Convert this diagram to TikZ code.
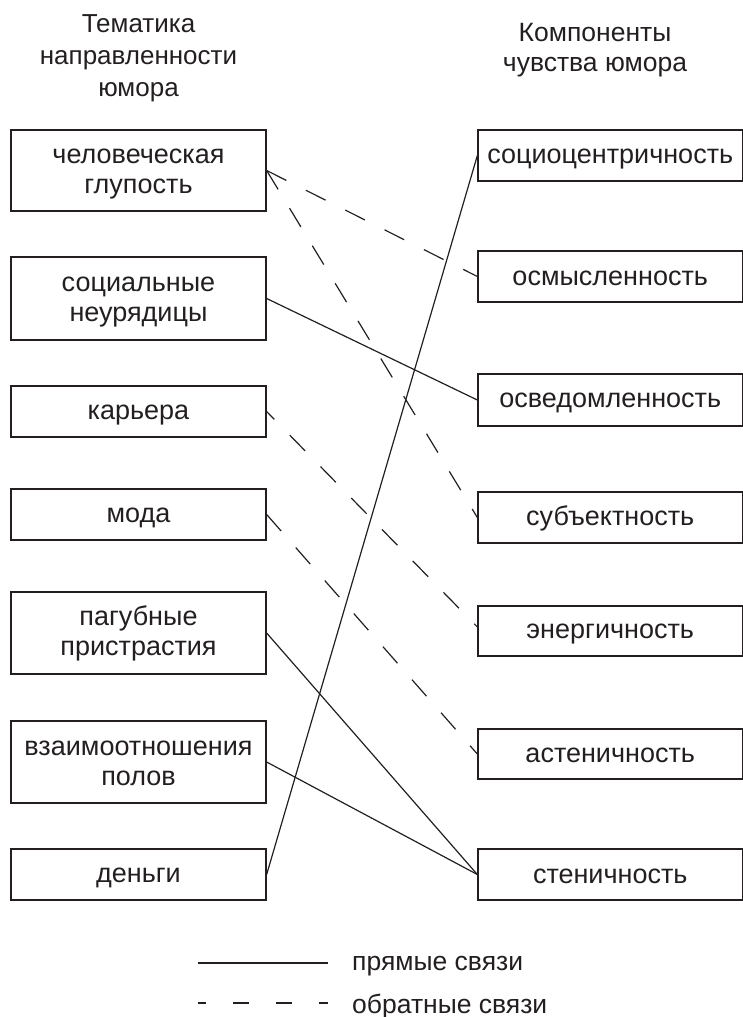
\documentclass[tikz,border=0pt]{standalone}
\usepackage{fontspec}
\setmainfont{Liberation Sans}
\definecolor{ink}{HTML}{231F20}
\newcommand\tstr{\rule[-4pt]{0pt}{25pt}}
\begin{document}
\begin{tikzpicture}[x=1pt,y=-1pt,
  box/.style={draw=ink, line width=1.3pt, rectangle, inner sep=0pt, align=center,
    font=\fontsize{27}{30}\selectfont, text=ink},
  lbox/.style={box, minimum width=255pt},
  rbox/.style={box, minimum width=264.5pt},
  ttl/.style={align=center, inner sep=0pt, text=ink},
  direct/.style={draw=ink, line width=1.2pt},
  inverse/.style={draw=ink, line width=1.2pt, dash pattern=on 22pt off 22pt},
  legtext/.style={anchor=base west, inner sep=0pt, text=ink, font=\fontsize{26.5}{30}\selectfont},
]
\useasboundingbox (0,0) rectangle (743,1017);

% titles
\node[ttl, font=\fontsize{26}{32}\selectfont] (tl) at (138.5,56.5) {\tstr Тематика\\направленности\\юмора\tstr};
\node[ttl, font=\fontsize{26.5}{30}\selectfont] (tr) at (595,48.5) {\tstr Компоненты\\чувства юмора\tstr};

% left boxes
\node[lbox, minimum height=81pt] (l1) at (138.5,170.5) {\tstr человеческая\\глупость\tstr};
\node[lbox, minimum height=83pt] (l2) at (138.5,298.5) {\tstr социальные\\неурядицы\tstr};
\node[lbox, minimum height=51pt] (l3) at (138.5,411.5) {\tstr карьера};
\node[lbox, minimum height=51pt] (l4) at (138.5,514.5) {\tstr мода};
\node[lbox, minimum height=82pt] (l5) at (138.5,633) {\tstr пагубные\\пристрастия\tstr};
\node[lbox, minimum height=82pt] (l6) at (138.5,762) {\tstr взаимоотношения\\полов\tstr};
\node[lbox, minimum height=51pt] (l7) at (138.5,874.5) {\tstr деньги};

% right boxes
\node[rbox, minimum height=51pt] (r1) at (610.25,155.5) {\tstr социоцентричность};
\node[rbox, minimum height=51pt] (r2) at (610.25,276.5) {\tstr осмысленность};
\node[rbox, minimum height=52pt] (r3) at (610.25,400) {\tstr осведомленность};
\node[rbox, minimum height=51pt] (r4) at (610.25,517.5) {\tstr субъектность};
\node[rbox, minimum height=50pt] (r5) at (610.25,631) {\tstr энергичность};
\node[rbox, minimum height=50pt] (r6) at (610.25,754) {\tstr астеничность};
\node[rbox, minimum height=51pt] (r7) at (610.25,874.5) {\tstr стеничность};

% direct links
\draw[direct] (l2.east) -- (r3.west);
\draw[direct] (l7.east) -- (r1.west);
\draw[direct] (l5.east) -- (r7.west);
\draw[direct] (l6.east) -- (r7.west);

% inverse links
\draw[inverse] (l1.east) -- (r2.west);
\draw[inverse] (l1.east) -- (r4.west);
\draw[inverse, dash phase=11pt] (l3.east) -- ([yshift=4pt]r5.west);
\draw[inverse] (l4.east) -- (r6.west);

% legend
\coordinate (s1) at (198,963);
\coordinate (s2) at (328,963);
\coordinate (d1) at (198,1003);
\coordinate (d2) at (328,1003);
\draw[direct] (s1) -- (s2);
\draw[direct, dash pattern=on 16pt off 27pt, dash phase=8pt] (d1) -- (d2);
\node[legtext] (ls) at (352,970) {прямые связи};
\node[legtext] (ld) at (352,1013) {обратные связи};
\end{tikzpicture}
\end{document}
